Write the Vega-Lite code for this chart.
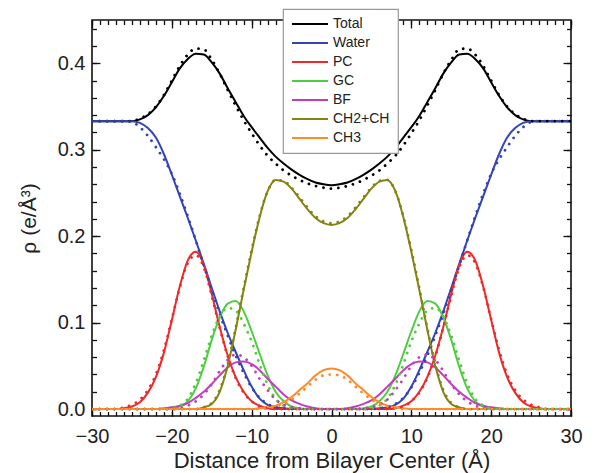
{
"$schema": "https://vega.github.io/schema/vega-lite/v6.json",
"width": 479, "height": 396,
"autosize": {"type": "none"},
"padding": {"left": 92, "top": 20, "right": 30, "bottom": 57},
"config": {
  "view": {"stroke": "#111", "strokeWidth": 1.6},
  "font": "Liberation Sans",
  "axis": {"grid": false, "domain": false, "tickColor": "#111", "tickWidth": 1.3, "labelFont": "Liberation Sans", "titleFont": "Liberation Sans", "labelColor": "#222", "titleColor": "#222", "labelFlush": false, "labelOverlap": false, "labelBound": false},
  "legend": {"orient": "none", "legendX": 191, "legendY": -11, "symbolType": "M-1,0H5", "symbolSize": 144, "symbolStrokeWidth": 2, "symbolDash": [1, 0], "labelFont": "Liberation Sans", "labelFontSize": 14, "labelColor": "#222", "labelOffset": 28, "rowPadding": 5, "padding": 8, "strokeColor": "#999", "strokeWidth": 1.2, "fillColor": "white"}
},
"datasets": {
"fit": [
{"s":"Total","x":-30,"y":0.333},{"s":"Total","x":-25,"y":0.333},{"s":"Total","x":-24,"y":0.335},{"s":"Total","x":-23,"y":0.340},{"s":"Total","x":-22,"y":0.349},{"s":"Total","x":-21,"y":0.362},{"s":"Total","x":-20,"y":0.378},{"s":"Total","x":-19,"y":0.394},{"s":"Total","x":-18,"y":0.405},{"s":"Total","x":-17,"y":0.411},{"s":"Total","x":-16,"y":0.410},{"s":"Total","x":-15,"y":0.401},{"s":"Total","x":-14,"y":0.388},{"s":"Total","x":-13,"y":0.371},{"s":"Total","x":-12,"y":0.355},{"s":"Total","x":-11,"y":0.339},{"s":"Total","x":-10,"y":0.326},{"s":"Total","x":-9,"y":0.314},{"s":"Total","x":-8,"y":0.302},{"s":"Total","x":-7,"y":0.292},{"s":"Total","x":-6,"y":0.284},{"s":"Total","x":-5,"y":0.277},{"s":"Total","x":-4,"y":0.271},{"s":"Total","x":-3,"y":0.266},{"s":"Total","x":-2,"y":0.262},{"s":"Total","x":-1,"y":0.260},{"s":"Total","x":0,"y":0.259},{"s":"Total","x":1,"y":0.260},{"s":"Total","x":2,"y":0.262},{"s":"Total","x":3,"y":0.266},{"s":"Total","x":4,"y":0.271},{"s":"Total","x":5,"y":0.277},{"s":"Total","x":6,"y":0.284},{"s":"Total","x":7,"y":0.292},{"s":"Total","x":8,"y":0.302},{"s":"Total","x":9,"y":0.314},{"s":"Total","x":10,"y":0.326},{"s":"Total","x":11,"y":0.339},{"s":"Total","x":12,"y":0.355},{"s":"Total","x":13,"y":0.371},{"s":"Total","x":14,"y":0.388},{"s":"Total","x":15,"y":0.401},{"s":"Total","x":16,"y":0.410},{"s":"Total","x":17,"y":0.411},{"s":"Total","x":18,"y":0.405},{"s":"Total","x":19,"y":0.394},{"s":"Total","x":20,"y":0.378},{"s":"Total","x":21,"y":0.362},{"s":"Total","x":22,"y":0.349},{"s":"Total","x":23,"y":0.340},{"s":"Total","x":24,"y":0.335},{"s":"Total","x":25,"y":0.333},{"s":"Total","x":30,"y":0.333},
{"s":"Water","x":-30,"y":0.333},{"s":"Water","x":-25,"y":0.333},{"s":"Water","x":-24,"y":0.331},{"s":"Water","x":-23,"y":0.325},{"s":"Water","x":-22,"y":0.314},{"s":"Water","x":-21,"y":0.295},{"s":"Water","x":-20,"y":0.271},{"s":"Water","x":-19,"y":0.246},{"s":"Water","x":-18,"y":0.221},{"s":"Water","x":-17,"y":0.195},{"s":"Water","x":-16,"y":0.168},{"s":"Water","x":-15,"y":0.140},{"s":"Water","x":-14,"y":0.113},{"s":"Water","x":-13,"y":0.088},{"s":"Water","x":-12,"y":0.066},{"s":"Water","x":-11,"y":0.045},{"s":"Water","x":-10,"y":0.026},{"s":"Water","x":-9,"y":0.012},{"s":"Water","x":-8,"y":0.005},{"s":"Water","x":-7,"y":0.002},{"s":"Water","x":-6,"y":0.001},{"s":"Water","x":-5,"y":0},{"s":"Water","x":5,"y":0},{"s":"Water","x":6,"y":0.001},{"s":"Water","x":7,"y":0.002},{"s":"Water","x":8,"y":0.005},{"s":"Water","x":9,"y":0.012},{"s":"Water","x":10,"y":0.026},{"s":"Water","x":11,"y":0.045},{"s":"Water","x":12,"y":0.066},{"s":"Water","x":13,"y":0.088},{"s":"Water","x":14,"y":0.113},{"s":"Water","x":15,"y":0.140},{"s":"Water","x":16,"y":0.168},{"s":"Water","x":17,"y":0.195},{"s":"Water","x":18,"y":0.221},{"s":"Water","x":19,"y":0.246},{"s":"Water","x":20,"y":0.271},{"s":"Water","x":21,"y":0.295},{"s":"Water","x":22,"y":0.314},{"s":"Water","x":23,"y":0.325},{"s":"Water","x":24,"y":0.331},{"s":"Water","x":25,"y":0.333},{"s":"Water","x":30,"y":0.333},
{"s":"PC","x":-30,"y":0},{"s":"PC","x":-27,"y":0},{"s":"PC","x":-26,"y":0.001},{"s":"PC","x":-25,"y":0.003},{"s":"PC","x":-24,"y":0.008},{"s":"PC","x":-23,"y":0.019},{"s":"PC","x":-22,"y":0.037},{"s":"PC","x":-21,"y":0.065},{"s":"PC","x":-20,"y":0.103},{"s":"PC","x":-19,"y":0.142},{"s":"PC","x":-18,"y":0.172},{"s":"PC","x":-17,"y":0.182},{"s":"PC","x":-16,"y":0.167},{"s":"PC","x":-15,"y":0.133},{"s":"PC","x":-14,"y":0.095},{"s":"PC","x":-13,"y":0.062},{"s":"PC","x":-12,"y":0.037},{"s":"PC","x":-11,"y":0.020},{"s":"PC","x":-10,"y":0.009},{"s":"PC","x":-9,"y":0.004},{"s":"PC","x":-8,"y":0.001},{"s":"PC","x":-7,"y":0},{"s":"PC","x":7,"y":0},{"s":"PC","x":8,"y":0.001},{"s":"PC","x":9,"y":0.004},{"s":"PC","x":10,"y":0.009},{"s":"PC","x":11,"y":0.020},{"s":"PC","x":12,"y":0.037},{"s":"PC","x":13,"y":0.062},{"s":"PC","x":14,"y":0.095},{"s":"PC","x":15,"y":0.133},{"s":"PC","x":16,"y":0.167},{"s":"PC","x":17,"y":0.182},{"s":"PC","x":18,"y":0.172},{"s":"PC","x":19,"y":0.142},{"s":"PC","x":20,"y":0.103},{"s":"PC","x":21,"y":0.065},{"s":"PC","x":22,"y":0.037},{"s":"PC","x":23,"y":0.019},{"s":"PC","x":24,"y":0.008},{"s":"PC","x":25,"y":0.003},{"s":"PC","x":26,"y":0.001},{"s":"PC","x":27,"y":0},{"s":"PC","x":30,"y":0},
{"s":"GC","x":-30,"y":0},{"s":"GC","x":-21,"y":0},{"s":"GC","x":-20,"y":0.001},{"s":"GC","x":-19,"y":0.003},{"s":"GC","x":-18,"y":0.009},{"s":"GC","x":-17,"y":0.024},{"s":"GC","x":-16,"y":0.049},{"s":"GC","x":-15,"y":0.080},{"s":"GC","x":-14,"y":0.106},{"s":"GC","x":-13,"y":0.122},{"s":"GC","x":-12,"y":0.125},{"s":"GC","x":-11,"y":0.113},{"s":"GC","x":-10,"y":0.090},{"s":"GC","x":-9,"y":0.064},{"s":"GC","x":-8,"y":0.039},{"s":"GC","x":-7,"y":0.020},{"s":"GC","x":-6,"y":0.009},{"s":"GC","x":-5,"y":0.003},{"s":"GC","x":-4,"y":0.001},{"s":"GC","x":-3,"y":0},{"s":"GC","x":3,"y":0},{"s":"GC","x":4,"y":0.001},{"s":"GC","x":5,"y":0.003},{"s":"GC","x":6,"y":0.009},{"s":"GC","x":7,"y":0.020},{"s":"GC","x":8,"y":0.039},{"s":"GC","x":9,"y":0.064},{"s":"GC","x":10,"y":0.090},{"s":"GC","x":11,"y":0.113},{"s":"GC","x":12,"y":0.125},{"s":"GC","x":13,"y":0.122},{"s":"GC","x":14,"y":0.106},{"s":"GC","x":15,"y":0.080},{"s":"GC","x":16,"y":0.049},{"s":"GC","x":17,"y":0.024},{"s":"GC","x":18,"y":0.009},{"s":"GC","x":19,"y":0.003},{"s":"GC","x":20,"y":0.001},{"s":"GC","x":21,"y":0},{"s":"GC","x":30,"y":0},
{"s":"BF","x":-30,"y":0},{"s":"BF","x":-22,"y":0},{"s":"BF","x":-21,"y":0.001},{"s":"BF","x":-20,"y":0.002},{"s":"BF","x":-19,"y":0.004},{"s":"BF","x":-18,"y":0.007},{"s":"BF","x":-17,"y":0.013},{"s":"BF","x":-16,"y":0.020},{"s":"BF","x":-15,"y":0.029},{"s":"BF","x":-14,"y":0.039},{"s":"BF","x":-13,"y":0.048},{"s":"BF","x":-12,"y":0.054},{"s":"BF","x":-11,"y":0.055},{"s":"BF","x":-10,"y":0.052},{"s":"BF","x":-9,"y":0.045},{"s":"BF","x":-8,"y":0.035},{"s":"BF","x":-7,"y":0.026},{"s":"BF","x":-6,"y":0.017},{"s":"BF","x":-5,"y":0.010},{"s":"BF","x":-4,"y":0.006},{"s":"BF","x":-3,"y":0.003},{"s":"BF","x":-2,"y":0.001},{"s":"BF","x":-1,"y":0},{"s":"BF","x":1,"y":0},{"s":"BF","x":2,"y":0.001},{"s":"BF","x":3,"y":0.003},{"s":"BF","x":4,"y":0.006},{"s":"BF","x":5,"y":0.010},{"s":"BF","x":6,"y":0.017},{"s":"BF","x":7,"y":0.026},{"s":"BF","x":8,"y":0.035},{"s":"BF","x":9,"y":0.045},{"s":"BF","x":10,"y":0.052},{"s":"BF","x":11,"y":0.055},{"s":"BF","x":12,"y":0.054},{"s":"BF","x":13,"y":0.048},{"s":"BF","x":14,"y":0.039},{"s":"BF","x":15,"y":0.029},{"s":"BF","x":16,"y":0.020},{"s":"BF","x":17,"y":0.013},{"s":"BF","x":18,"y":0.007},{"s":"BF","x":19,"y":0.004},{"s":"BF","x":20,"y":0.002},{"s":"BF","x":21,"y":0.001},{"s":"BF","x":22,"y":0},{"s":"BF","x":30,"y":0},
{"s":"CH2+CH","x":-30,"y":0},{"s":"CH2+CH","x":-17,"y":0},{"s":"CH2+CH","x":-16,"y":0.002},{"s":"CH2+CH","x":-15,"y":0.006},{"s":"CH2+CH","x":-14,"y":0.020},{"s":"CH2+CH","x":-13,"y":0.050},{"s":"CH2+CH","x":-12,"y":0.092},{"s":"CH2+CH","x":-11,"y":0.138},{"s":"CH2+CH","x":-10,"y":0.182},{"s":"CH2+CH","x":-9,"y":0.222},{"s":"CH2+CH","x":-8,"y":0.252},{"s":"CH2+CH","x":-7,"y":0.265},{"s":"CH2+CH","x":-6,"y":0.263},{"s":"CH2+CH","x":-5,"y":0.255},{"s":"CH2+CH","x":-4,"y":0.243},{"s":"CH2+CH","x":-3,"y":0.231},{"s":"CH2+CH","x":-2,"y":0.221},{"s":"CH2+CH","x":-1,"y":0.215},{"s":"CH2+CH","x":0,"y":0.213},{"s":"CH2+CH","x":1,"y":0.215},{"s":"CH2+CH","x":2,"y":0.221},{"s":"CH2+CH","x":3,"y":0.231},{"s":"CH2+CH","x":4,"y":0.243},{"s":"CH2+CH","x":5,"y":0.255},{"s":"CH2+CH","x":6,"y":0.263},{"s":"CH2+CH","x":7,"y":0.265},{"s":"CH2+CH","x":8,"y":0.252},{"s":"CH2+CH","x":9,"y":0.222},{"s":"CH2+CH","x":10,"y":0.182},{"s":"CH2+CH","x":11,"y":0.138},{"s":"CH2+CH","x":12,"y":0.092},{"s":"CH2+CH","x":13,"y":0.050},{"s":"CH2+CH","x":14,"y":0.020},{"s":"CH2+CH","x":15,"y":0.006},{"s":"CH2+CH","x":16,"y":0.002},{"s":"CH2+CH","x":17,"y":0},{"s":"CH2+CH","x":30,"y":0},
{"s":"CH3","x":-30,"y":0},{"s":"CH3","x":-10,"y":0},{"s":"CH3","x":-9,"y":0.001},{"s":"CH3","x":-8,"y":0.002},{"s":"CH3","x":-7,"y":0.004},{"s":"CH3","x":-6,"y":0.008},{"s":"CH3","x":-5,"y":0.014},{"s":"CH3","x":-4,"y":0.022},{"s":"CH3","x":-3,"y":0.030},{"s":"CH3","x":-2,"y":0.039},{"s":"CH3","x":-1,"y":0.045},{"s":"CH3","x":0,"y":0.047},{"s":"CH3","x":1,"y":0.045},{"s":"CH3","x":2,"y":0.039},{"s":"CH3","x":3,"y":0.030},{"s":"CH3","x":4,"y":0.022},{"s":"CH3","x":5,"y":0.014},{"s":"CH3","x":6,"y":0.008},{"s":"CH3","x":7,"y":0.004},{"s":"CH3","x":8,"y":0.002},{"s":"CH3","x":9,"y":0.001},{"s":"CH3","x":10,"y":0},{"s":"CH3","x":30,"y":0}
],
"sim": [
{"s":"Total","x":-30,"y":0.333},{"s":"Total","x":-25,"y":0.333},{"s":"Total","x":-24,"y":0.336},{"s":"Total","x":-23,"y":0.341},{"s":"Total","x":-22,"y":0.350},{"s":"Total","x":-21,"y":0.363},{"s":"Total","x":-20,"y":0.380},{"s":"Total","x":-19,"y":0.397},{"s":"Total","x":-18,"y":0.410},{"s":"Total","x":-17,"y":0.417},{"s":"Total","x":-16,"y":0.416},{"s":"Total","x":-15,"y":0.404},{"s":"Total","x":-14,"y":0.388},{"s":"Total","x":-13,"y":0.369},{"s":"Total","x":-12,"y":0.351},{"s":"Total","x":-11,"y":0.334},{"s":"Total","x":-10,"y":0.319},{"s":"Total","x":-9,"y":0.305},{"s":"Total","x":-8,"y":0.293},{"s":"Total","x":-7,"y":0.284},{"s":"Total","x":-6,"y":0.276},{"s":"Total","x":-5,"y":0.270},{"s":"Total","x":-4,"y":0.265},{"s":"Total","x":-3,"y":0.261},{"s":"Total","x":-2,"y":0.258},{"s":"Total","x":-1,"y":0.256},{"s":"Total","x":0,"y":0.255},{"s":"Total","x":1,"y":0.256},{"s":"Total","x":2,"y":0.258},{"s":"Total","x":3,"y":0.261},{"s":"Total","x":4,"y":0.265},{"s":"Total","x":5,"y":0.270},{"s":"Total","x":6,"y":0.276},{"s":"Total","x":7,"y":0.284},{"s":"Total","x":8,"y":0.293},{"s":"Total","x":9,"y":0.305},{"s":"Total","x":10,"y":0.319},{"s":"Total","x":11,"y":0.334},{"s":"Total","x":12,"y":0.351},{"s":"Total","x":13,"y":0.369},{"s":"Total","x":14,"y":0.388},{"s":"Total","x":15,"y":0.404},{"s":"Total","x":16,"y":0.416},{"s":"Total","x":17,"y":0.417},{"s":"Total","x":18,"y":0.410},{"s":"Total","x":19,"y":0.397},{"s":"Total","x":20,"y":0.380},{"s":"Total","x":21,"y":0.363},{"s":"Total","x":22,"y":0.350},{"s":"Total","x":23,"y":0.341},{"s":"Total","x":24,"y":0.336},{"s":"Total","x":25,"y":0.333},{"s":"Total","x":30,"y":0.333},
{"s":"Water","x":-30,"y":0.333},{"s":"Water","x":-26,"y":0.333},{"s":"Water","x":-25,"y":0.332},{"s":"Water","x":-24,"y":0.326},{"s":"Water","x":-23,"y":0.316},{"s":"Water","x":-22,"y":0.303},{"s":"Water","x":-21,"y":0.289},{"s":"Water","x":-20,"y":0.272},{"s":"Water","x":-19,"y":0.249},{"s":"Water","x":-18,"y":0.223},{"s":"Water","x":-17,"y":0.195},{"s":"Water","x":-16,"y":0.166},{"s":"Water","x":-15,"y":0.138},{"s":"Water","x":-14,"y":0.110},{"s":"Water","x":-13,"y":0.085},{"s":"Water","x":-12,"y":0.062},{"s":"Water","x":-11,"y":0.042},{"s":"Water","x":-10,"y":0.025},{"s":"Water","x":-9,"y":0.013},{"s":"Water","x":-8,"y":0.006},{"s":"Water","x":-7,"y":0.002},{"s":"Water","x":-6,"y":0.001},{"s":"Water","x":-5,"y":0},{"s":"Water","x":5,"y":0},{"s":"Water","x":6,"y":0.001},{"s":"Water","x":7,"y":0.002},{"s":"Water","x":8,"y":0.006},{"s":"Water","x":9,"y":0.013},{"s":"Water","x":10,"y":0.025},{"s":"Water","x":11,"y":0.042},{"s":"Water","x":12,"y":0.062},{"s":"Water","x":13,"y":0.085},{"s":"Water","x":14,"y":0.110},{"s":"Water","x":15,"y":0.138},{"s":"Water","x":16,"y":0.166},{"s":"Water","x":17,"y":0.195},{"s":"Water","x":18,"y":0.223},{"s":"Water","x":19,"y":0.249},{"s":"Water","x":20,"y":0.272},{"s":"Water","x":21,"y":0.289},{"s":"Water","x":22,"y":0.303},{"s":"Water","x":23,"y":0.316},{"s":"Water","x":24,"y":0.326},{"s":"Water","x":25,"y":0.332},{"s":"Water","x":26,"y":0.333},{"s":"Water","x":30,"y":0.333},
{"s":"PC","x":-30,"y":0},{"s":"PC","x":-27,"y":0},{"s":"PC","x":-26,"y":0.002},{"s":"PC","x":-25,"y":0.005},{"s":"PC","x":-24,"y":0.011},{"s":"PC","x":-23,"y":0.022},{"s":"PC","x":-22,"y":0.040},{"s":"PC","x":-21,"y":0.068},{"s":"PC","x":-20,"y":0.104},{"s":"PC","x":-19,"y":0.141},{"s":"PC","x":-18,"y":0.169},{"s":"PC","x":-17,"y":0.178},{"s":"PC","x":-16,"y":0.164},{"s":"PC","x":-15,"y":0.131},{"s":"PC","x":-14,"y":0.094},{"s":"PC","x":-13,"y":0.061},{"s":"PC","x":-12,"y":0.036},{"s":"PC","x":-11,"y":0.019},{"s":"PC","x":-10,"y":0.009},{"s":"PC","x":-9,"y":0.003},{"s":"PC","x":-8,"y":0.001},{"s":"PC","x":-7,"y":0},{"s":"PC","x":7,"y":0},{"s":"PC","x":8,"y":0.001},{"s":"PC","x":9,"y":0.003},{"s":"PC","x":10,"y":0.009},{"s":"PC","x":11,"y":0.019},{"s":"PC","x":12,"y":0.036},{"s":"PC","x":13,"y":0.061},{"s":"PC","x":14,"y":0.094},{"s":"PC","x":15,"y":0.131},{"s":"PC","x":16,"y":0.164},{"s":"PC","x":17,"y":0.178},{"s":"PC","x":18,"y":0.169},{"s":"PC","x":19,"y":0.141},{"s":"PC","x":20,"y":0.104},{"s":"PC","x":21,"y":0.068},{"s":"PC","x":22,"y":0.040},{"s":"PC","x":23,"y":0.022},{"s":"PC","x":24,"y":0.011},{"s":"PC","x":25,"y":0.005},{"s":"PC","x":26,"y":0.002},{"s":"PC","x":27,"y":0},{"s":"PC","x":30,"y":0},
{"s":"GC","x":-30,"y":0},{"s":"GC","x":-21,"y":0},{"s":"GC","x":-20,"y":0.001},{"s":"GC","x":-19,"y":0.004},{"s":"GC","x":-18,"y":0.012},{"s":"GC","x":-17,"y":0.030},{"s":"GC","x":-16,"y":0.056},{"s":"GC","x":-15,"y":0.085},{"s":"GC","x":-14,"y":0.107},{"s":"GC","x":-13,"y":0.117},{"s":"GC","x":-12,"y":0.114},{"s":"GC","x":-11,"y":0.099},{"s":"GC","x":-10,"y":0.078},{"s":"GC","x":-9,"y":0.052},{"s":"GC","x":-8,"y":0.028},{"s":"GC","x":-7,"y":0.012},{"s":"GC","x":-6,"y":0.004},{"s":"GC","x":-5,"y":0.001},{"s":"GC","x":-4,"y":0},{"s":"GC","x":4,"y":0},{"s":"GC","x":5,"y":0.001},{"s":"GC","x":6,"y":0.004},{"s":"GC","x":7,"y":0.012},{"s":"GC","x":8,"y":0.028},{"s":"GC","x":9,"y":0.052},{"s":"GC","x":10,"y":0.078},{"s":"GC","x":11,"y":0.099},{"s":"GC","x":12,"y":0.114},{"s":"GC","x":13,"y":0.117},{"s":"GC","x":14,"y":0.107},{"s":"GC","x":15,"y":0.085},{"s":"GC","x":16,"y":0.056},{"s":"GC","x":17,"y":0.030},{"s":"GC","x":18,"y":0.012},{"s":"GC","x":19,"y":0.004},{"s":"GC","x":20,"y":0.001},{"s":"GC","x":21,"y":0},{"s":"GC","x":30,"y":0},
{"s":"BF","x":-30,"y":0},{"s":"BF","x":-20,"y":0},{"s":"BF","x":-19,"y":0.001},{"s":"BF","x":-18,"y":0.004},{"s":"BF","x":-17,"y":0.009},{"s":"BF","x":-16,"y":0.017},{"s":"BF","x":-15,"y":0.029},{"s":"BF","x":-14,"y":0.044},{"s":"BF","x":-13,"y":0.057},{"s":"BF","x":-12,"y":0.063},{"s":"BF","x":-11,"y":0.060},{"s":"BF","x":-10,"y":0.050},{"s":"BF","x":-9,"y":0.035},{"s":"BF","x":-8,"y":0.022},{"s":"BF","x":-7,"y":0.011},{"s":"BF","x":-6,"y":0.005},{"s":"BF","x":-5,"y":0.002},{"s":"BF","x":-4,"y":0.001},{"s":"BF","x":-3,"y":0},{"s":"BF","x":3,"y":0},{"s":"BF","x":4,"y":0.001},{"s":"BF","x":5,"y":0.002},{"s":"BF","x":6,"y":0.005},{"s":"BF","x":7,"y":0.011},{"s":"BF","x":8,"y":0.022},{"s":"BF","x":9,"y":0.035},{"s":"BF","x":10,"y":0.050},{"s":"BF","x":11,"y":0.060},{"s":"BF","x":12,"y":0.063},{"s":"BF","x":13,"y":0.057},{"s":"BF","x":14,"y":0.044},{"s":"BF","x":15,"y":0.029},{"s":"BF","x":16,"y":0.017},{"s":"BF","x":17,"y":0.009},{"s":"BF","x":18,"y":0.004},{"s":"BF","x":19,"y":0.001},{"s":"BF","x":20,"y":0},{"s":"BF","x":30,"y":0},
{"s":"CH2+CH","x":-30,"y":0},{"s":"CH2+CH","x":-17,"y":0},{"s":"CH2+CH","x":-16,"y":0.002},{"s":"CH2+CH","x":-15,"y":0.007},{"s":"CH2+CH","x":-14,"y":0.022},{"s":"CH2+CH","x":-13,"y":0.052},{"s":"CH2+CH","x":-12,"y":0.094},{"s":"CH2+CH","x":-11,"y":0.140},{"s":"CH2+CH","x":-10,"y":0.184},{"s":"CH2+CH","x":-9,"y":0.223},{"s":"CH2+CH","x":-8,"y":0.252},{"s":"CH2+CH","x":-7,"y":0.265},{"s":"CH2+CH","x":-6,"y":0.264},{"s":"CH2+CH","x":-5,"y":0.256},{"s":"CH2+CH","x":-4,"y":0.245},{"s":"CH2+CH","x":-3,"y":0.233},{"s":"CH2+CH","x":-2,"y":0.223},{"s":"CH2+CH","x":-1,"y":0.217},{"s":"CH2+CH","x":0,"y":0.215},{"s":"CH2+CH","x":1,"y":0.217},{"s":"CH2+CH","x":2,"y":0.223},{"s":"CH2+CH","x":3,"y":0.233},{"s":"CH2+CH","x":4,"y":0.245},{"s":"CH2+CH","x":5,"y":0.256},{"s":"CH2+CH","x":6,"y":0.264},{"s":"CH2+CH","x":7,"y":0.265},{"s":"CH2+CH","x":8,"y":0.252},{"s":"CH2+CH","x":9,"y":0.223},{"s":"CH2+CH","x":10,"y":0.184},{"s":"CH2+CH","x":11,"y":0.140},{"s":"CH2+CH","x":12,"y":0.094},{"s":"CH2+CH","x":13,"y":0.052},{"s":"CH2+CH","x":14,"y":0.022},{"s":"CH2+CH","x":15,"y":0.007},{"s":"CH2+CH","x":16,"y":0.002},{"s":"CH2+CH","x":17,"y":0},{"s":"CH2+CH","x":30,"y":0},
{"s":"CH3","x":-30,"y":0},{"s":"CH3","x":-9,"y":0},{"s":"CH3","x":-8,"y":0.001},{"s":"CH3","x":-7,"y":0.003},{"s":"CH3","x":-6,"y":0.006},{"s":"CH3","x":-5,"y":0.011},{"s":"CH3","x":-4,"y":0.018},{"s":"CH3","x":-3,"y":0.026},{"s":"CH3","x":-2,"y":0.034},{"s":"CH3","x":-1,"y":0.039},{"s":"CH3","x":0,"y":0.040},{"s":"CH3","x":1,"y":0.039},{"s":"CH3","x":2,"y":0.034},{"s":"CH3","x":3,"y":0.026},{"s":"CH3","x":4,"y":0.018},{"s":"CH3","x":5,"y":0.011},{"s":"CH3","x":6,"y":0.006},{"s":"CH3","x":7,"y":0.003},{"s":"CH3","x":8,"y":0.001},{"s":"CH3","x":9,"y":0},{"s":"CH3","x":30,"y":0}
]
},
"layer": [
{
  "data": {"name": "fit"},
  "mark": {"type": "line", "interpolate": "monotone", "strokeWidth": 2, "clip": true},
  "encoding": {
    "x": {"field": "x", "type": "quantitative", "scale": {"domain": [-30, 30], "nice": false, "zero": false},
      "axis": {"orient": "bottom", "values": [-30,-20,-10,0,10,20,30], "tickSize": -8, "labelPadding": 18, "labelFontSize": 20, "title": "Distance from Bilayer Center (Å)", "titleFontSize": 22, "titleFontWeight": "normal", "titlePadding": 4}},
    "y": {"field": "y", "type": "quantitative", "scale": {"domain": [-0.008, 0.45], "nice": false, "zero": false},
      "axis": {"orient": "left", "values": [0,0.1,0.2,0.3,0.4], "format": ".1f", "tickSize": -8, "labelPadding": 15, "labelFontSize": 20, "title": "ρ (e/Å³)", "titleFontSize": 21, "titleFontWeight": "normal", "titlePadding": 18}},
    "color": {"field": "s", "type": "nominal", "title": null,
      "scale": {"domain": ["Total","Water","PC","GC","BF","CH2+CH","CH3"], "range": ["#000000","#3444b8","#f02828","#4fcc3f","#c03fc0","#848412","#ff8a2a"]}}
  }
},
{
  "data": {"name": "sim"},
  "mark": {"type": "line", "interpolate": "monotone", "strokeWidth": 2.8, "strokeDash": [0.01, 7.5], "strokeCap": "round", "clip": true},
  "encoding": {
    "x": {"field": "x", "type": "quantitative", "scale": {"domain": [-30, 30], "nice": false, "zero": false},
      "axis": {"orient": "top", "values": [-30,-20,-10,0,10,20,30], "tickSize": -8, "labels": false, "title": null}},
    "y": {"field": "y", "type": "quantitative", "scale": {"domain": [-0.008, 0.45], "nice": false, "zero": false},
      "axis": {"orient": "right", "values": [0,0.1,0.2,0.3,0.4], "tickSize": -8, "labels": false, "title": null}},
    "color": {"field": "s", "type": "nominal", "title": null}
  }
},
{
  "data": {"name": "fit"},
  "mark": {"type": "line", "strokeOpacity": 0},
  "encoding": {
    "x": {"field": "x", "type": "quantitative", "scale": {"domain": [-30, 30], "nice": false, "zero": false},
      "axis": {"orient": "bottom", "values": [-30,-29,-28,-27,-26,-25,-24,-23,-22,-21,-20,-19,-18,-17,-16,-15,-14,-13,-12,-11,-10,-9,-8,-7,-6,-5,-4,-3,-2,-1,0,1,2,3,4,5,6,7,8,9,10,11,12,13,14,15,16,17,18,19,20,21,22,23,24,25,26,27,28,29,30], "tickSize": -4.5, "labels": false, "title": null}},
    "y": {"field": "y", "type": "quantitative", "scale": {"domain": [-0.008, 0.45], "nice": false, "zero": false},
      "axis": {"orient": "left", "values": [0,0.02,0.04,0.06,0.08,0.1,0.12,0.14,0.16,0.18,0.2,0.22,0.24,0.26,0.28,0.3,0.32,0.34,0.36,0.38,0.4,0.42,0.44], "tickSize": -4.5, "labels": false, "title": null}}
  }
},
{
  "data": {"name": "fit"},
  "mark": {"type": "line", "strokeOpacity": 0},
  "encoding": {
    "x": {"field": "x", "type": "quantitative", "scale": {"domain": [-30, 30], "nice": false, "zero": false},
      "axis": {"orient": "top", "values": [-30,-29,-28,-27,-26,-25,-24,-23,-22,-21,-20,-19,-18,-17,-16,-15,-14,-13,-12,-11,-10,-9,-8,-7,-6,-5,-4,-3,-2,-1,0,1,2,3,4,5,6,7,8,9,10,11,12,13,14,15,16,17,18,19,20,21,22,23,24,25,26,27,28,29,30], "tickSize": -4.5, "labels": false, "title": null}},
    "y": {"field": "y", "type": "quantitative", "scale": {"domain": [-0.008, 0.45], "nice": false, "zero": false},
      "axis": {"orient": "right", "values": [0,0.02,0.04,0.06,0.08,0.1,0.12,0.14,0.16,0.18,0.2,0.22,0.24,0.26,0.28,0.3,0.32,0.34,0.36,0.38,0.4,0.42,0.44], "tickSize": -4.5, "labels": false, "title": null}}
  }
}
],
"resolve": {"scale": {"x": "independent", "y": "independent"}, "axis": {"x": "independent", "y": "independent"}}
}
